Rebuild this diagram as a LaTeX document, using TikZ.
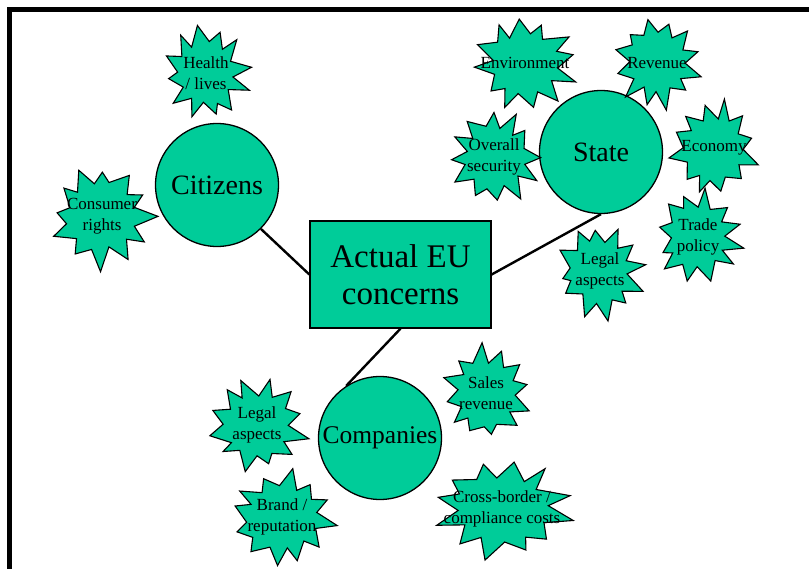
\documentclass[tikz,border=0pt]{standalone}
\usepackage{fontspec}
\setmainfont{Liberation Serif}
\definecolor{concern}{RGB}{0,204,153}
\pgfdeclarelayer{links}
\pgfsetlayers{links,main}
% irregular twelve-point burst with its label: name, x, y, x radius, y radius, seed, text
\newcommand\concernburst[7]{%
  \begin{scope}[shift={(#2,#3)}, xscale=#4, yscale=#5]
    \pgfmathsetseed{#6}
    \pgfmathsetmacro\burstturn{30*rnd}
    \draw[burst] (\burstturn:1)
      \foreach \k in {1,...,23}{
        -- ({\burstturn + \k*15 + 4*rand}:{mod(\k,2)==0 ? 0.78+0.22*rnd : 0.56+0.1*rnd})
      } -- cycle;
  \end{scope}
  \node[bursttext] (#1) at (#2,#3) {#7};
}
\begin{document}
\begin{tikzpicture}[x=1pt,y=-1pt,
  topic/.style={circle, draw=black, line width=1.3pt, fill=concern,
    minimum size=123pt, inner sep=0pt, font=\fontsize{28}{32}\selectfont},
  core/.style={rectangle, draw=black, line width=1.3pt, fill=concern,
    minimum width=181pt, minimum height=107pt, align=center,
    font=\fontsize{33}{37}\selectfont},
  burst/.style={draw=black, line width=1.1pt, fill=concern, line join=miter},
  bursttext/.style={align=center, inner sep=0pt,
    font=\fontsize{17}{21}\selectfont},
  link/.style={draw=black, line width=2.4pt}
]
\useasboundingbox (0,0) rectangle (809,569);
% frame edges
\draw[line width=4.5pt] (9.5,569) -- (9.5,9.5) -- (809,9.5);

% the central box and the three groups
\node[core] (eu) at (400.5,274.5) {Actual EU\\concerns};
\node[topic] (cit) at (217,185) {Citizens};
\node[topic] (state) at (601,152) {State};
\node[topic, font=\fontsize{25.5}{30}\selectfont] (comp) at (380,438) {Companies};

% connectors, kept behind the shapes
\begin{pgfonlayer}{links}
  \draw[link] (cit.-45) -- (eu.west);
  \draw[link] (eu.east) -- (state.south);
  \draw[link] (eu.south) -- (comp.123);
\end{pgfonlayer}

% citizens concerns
\concernburst{health}{206}{73}{46}{51}{11}{Health\\/ lives}
\concernburst{cons}{102}{216}{56}{56}{23}{Consumer\\rights}

% state concerns
\concernburst{env}{525}{63}{55}{49}{37}{Environment}
\concernburst{rev}{657}{63}{46}{49}{41}{Revenue}
\concernburst{sec}{494}{157}{48}{52}{53}{Overall\\security}
\concernburst{eco}{714}{148}{47}{51}{67}{Economy}
\concernburst{trade}{698}{237}{47}{50}{71}{Trade\\policy}
\concernburst{legs}{600}{271}{47}{51}{83}{Legal\\aspects}

% company concerns
\concernburst{legc}{257}{425}{54}{50}{97}{Legal\\aspects}
\concernburst{brand}{282}{517}{56}{52}{101}{Brand /\\reputation}
\concernburst{sales}{486}{393}{46}{52}{113}{Sales\\revenue}
\concernburst{cross}{502}{509}{73}{53}{127}{Cross-border /\\compliance costs}
\end{tikzpicture}
\end{document}
